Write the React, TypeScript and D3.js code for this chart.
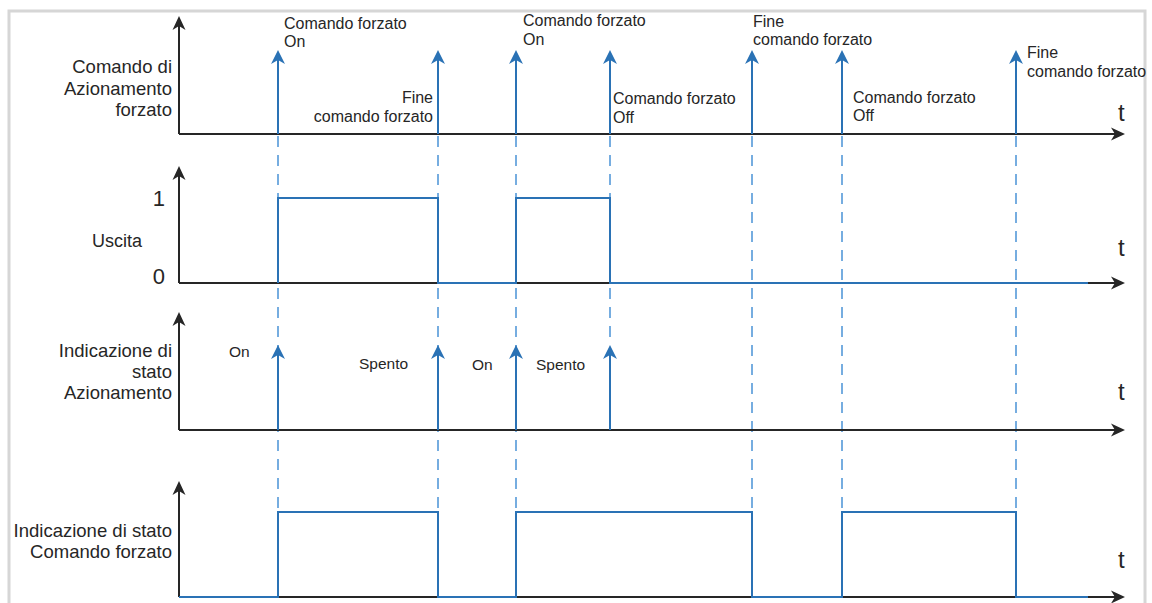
import React from "react";
import * as d3 from "d3";

// time of each forced-command event (arbitrary t units)
const eventTimes = [9.9, 25.9, 33.7, 43.1, 57.3, 66.3, 83.7];
const tEnd = 94.6; // end of the time axis

const commandLabels = [
  ["Comando forzato", "On"],
  ["Fine", "comando forzato"],
  ["Comando forzato", "On"],
  ["Comando forzato", "Off"],
  ["Fine", "comando forzato"],
  ["Comando forzato", "Off"],
  ["Fine", "comando forzato"],
];

// output (Uscita) steps: [time, level]
const outputSteps: [number, number][] = [
  [9.9, 1],
  [25.9, 0],
  [33.7, 1],
  [43.1, 0],
  [90.9, 0],
];

// status indication of actuation: arrows + labels
const statusTimes = [9.9, 25.9, 33.7, 43.1];
const statusLabels = ["On", "Spento", "On", "Spento"];

// status indication of forced command steps
const forcedSteps: [number, number][] = [
  [0, 0],
  [9.9, 1],
  [25.9, 0],
  [33.7, 1],
  [57.3, 0],
  [66.3, 1],
  [83.7, 0],
  [90.9, 0],
];

const rowTitles = [
  ["Comando di", "Azionamento", "forzato"],
  ["Uscita"],
  ["Indicazione di", "stato", "Azionamento"],
  ["Indicazione di stato", "Comando forzato"],
];

const W = 1152;
const H = 603;
const BLUE = "#2a72b5";
const DASH = "#4a92d6";
const INK = "#262626";
const FONT = "'Liberation Sans', Arial, Helvetica, sans-serif";

// panel geometry: axis top, baseline (level 0), level 1
const panels = [
  { top: 16, base: 134, high: 50 },
  { top: 166, base: 283, high: 198 },
  { top: 312, base: 430, high: 345 },
  { top: 481, base: 597, high: 512 },
];

// label placement for command labels: anchor, dx, baselines
const cmdPlace = [
  { anchor: "start", dx: 6, ys: [29, 47] },
  { anchor: "end", dx: -5, ys: [103, 122] },
  { anchor: "start", dx: 7, ys: [26, 45] },
  { anchor: "start", dx: 3, ys: [104, 123] },
  { anchor: "start", dx: 1, ys: [27, 45] },
  { anchor: "start", dx: 11, ys: [103, 121] },
  { anchor: "start", dx: 11, ys: [58, 77] },
];
const statusPlace = [
  { x: 229, y: 357 },
  { x: 359, y: 369 },
  { x: 472, y: 370 },
  { x: 536, y: 370 },
];
const titlePlace = [
  { x: 172, ys: [73, 95, 116], size: 18.5 },
  { x: 142, ys: [247], size: 18 },
  { x: 172, ys: [357, 378, 399], size: 18.5 },
  { x: 172, ys: [537, 558], size: 18.5 },
];
const tBaselines = [121, 256, 400, 568];

const upHead = (x: number, y: number, w: number, l: number) =>
  `M${x},${y} L${x - w / 2},${y + l} L${x},${y + l * 0.72} L${x + w / 2},${y + l} Z`;
const rightHead = (x: number, y: number, w: number, l: number) =>
  `M${x},${y} L${x - l},${y - w / 2} L${x - l * 0.72},${y} L${x - l},${y + w / 2} Z`;

export default function App() {
  const x = d3.scaleLinear().domain([0, tEnd]).range([179, 1125]);
  const ys = panels.map((p) => d3.scaleLinear().domain([0, 1]).range([p.base, p.high]));

  const step = (yScale: d3.ScaleLinear<number, number>) =>
    d3
      .line<[number, number]>()
      .x((d) => x(d[0]))
      .y((d) => yScale(d[1]))
      .curve(d3.curveStepAfter);

  const outputPath = step(ys[1])([[9.9, 0], ...outputSteps]) || "";
  const forcedPath = step(ys[3])(forcedSteps) || "";
  const forcedTimes = forcedSteps.map((d) => d[0]);

  return (
    <svg
      width={W}
      height={H}
      style={{ position: "absolute", left: 0, top: 0, background: "#fff" }}
      fontFamily={FONT}
    >
      <rect x={9} y={11} width={1136} height={640} fill="none" stroke="#d6d6d6" strokeWidth={3} />

      {/* dashed guides */}
      {eventTimes.map((t, i) => {
        const yEnd = forcedTimes.includes(t) ? ys[3](1) : ys[2](1);
        return (
          <line
            key={"g" + i}
            x1={x(t)}
            x2={x(t)}
            y1={panels[0].base + 2}
            y2={yEnd}
            stroke={DASH}
            strokeWidth={1.5}
            strokeDasharray="11,8"
          />
        );
      })}

      {/* axes */}
      {panels.map((p, i) => (
        <g key={"a" + i}>
          <line x1={179} x2={179} y1={p.top + 6} y2={p.base} stroke={INK} strokeWidth={2} />
          <line x1={179} x2={x(tEnd) - 6} y1={p.base} y2={p.base} stroke={INK} strokeWidth={2} />
          <path d={upHead(179, p.top, 13, 14)} fill={INK} />
          <path d={rightHead(x(tEnd), p.base, 13, 14)} fill={INK} />
          <text x={1118} y={tBaselines[i]} fontSize={24} fill={INK}>
            t
          </text>
        </g>
      ))}

      {/* row titles */}
      {rowTitles.map((lines, i) =>
        lines.map((s, j) => (
          <text
            key={"r" + i + j}
            x={titlePlace[i].x}
            y={titlePlace[i].ys[j]}
            fontSize={titlePlace[i].size}
            textAnchor="end"
            fill={INK}
          >
            {s}
          </text>
        ))
      )}
      <text x={165} y={206} fontSize={22} textAnchor="end" fill={INK}>
        1
      </text>
      <text x={165} y={284} fontSize={22} textAnchor="end" fill={INK}>
        0
      </text>

      {/* panel 1: command arrows */}
      {eventTimes.map((t, i) => (
        <g key={"c" + i}>
          <line x1={x(t)} x2={x(t)} y1={ys[0](0)} y2={ys[0](1) + 8} stroke={BLUE} strokeWidth={2} />
          <path d={upHead(x(t), ys[0](1), 14, 14)} fill={BLUE} />
          {commandLabels[i].map((s, j) => (
            <text
              key={j}
              x={x(t) + cmdPlace[i].dx}
              y={cmdPlace[i].ys[j]}
              fontSize={16}
              textAnchor={cmdPlace[i].anchor as "start" | "end"}
              fill={INK}
            >
              {s}
            </text>
          ))}
        </g>
      ))}

      {/* panel 2: output */}
      <path d={outputPath} fill="none" stroke={BLUE} strokeWidth={2} />

      {/* panel 3: status arrows */}
      {statusTimes.map((t, i) => (
        <g key={"s" + i}>
          <line x1={x(t)} x2={x(t)} y1={ys[2](0)} y2={ys[2](1) + 8} stroke={BLUE} strokeWidth={2} />
          <path d={upHead(x(t), ys[2](1), 14, 14)} fill={BLUE} />
          <text x={statusPlace[i].x} y={statusPlace[i].y} fontSize={15.5} fill={INK}>
            {statusLabels[i]}
          </text>
        </g>
      ))}

      {/* panel 4: forced command status */}
      <path d={forcedPath} fill="none" stroke={BLUE} strokeWidth={2} />
    </svg>
  );
}
